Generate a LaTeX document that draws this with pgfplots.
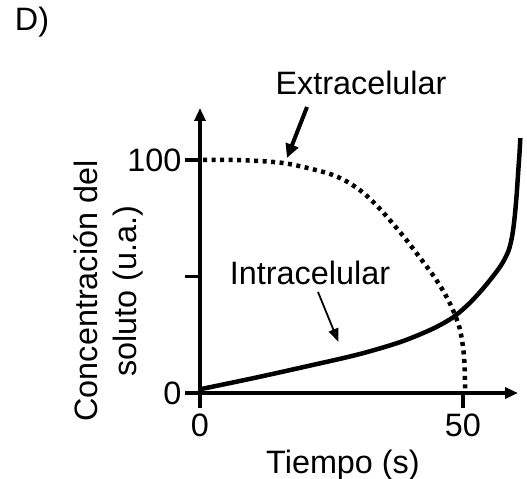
\documentclass[border=0pt]{standalone}
\usepackage{pgfplots}
\pgfplotsset{compat=1.18}
\usepackage{fontspec}
\setmainfont{Liberation Sans}
\usetikzlibrary{arrows.meta}
\newcommand{\bigf}{\fontsize{32.5}{38}\selectfont}
\begin{document}
\begin{tikzpicture}
\begin{axis}[
  scale only axis,
  width=318bp, height=285bp,
  xmin=0, xmax=60.46, ymin=0, ymax=122.3,
  axis lines=left,
  axis line style={line width=3.5bp, -{Triangle[length=13bp,width=11bp]}},
  clip=false,
  xtick={0,50}, ytick={0,50,100}, yticklabels={0,,100},
  tick align=outside,
  major tick length=15bp,
  tick style={line width=3.5bp, black},
  tick label style={font=\bigf},
  /pgf/number format/assume math mode=true,
  xticklabel style={yshift=-2bp},
  yticklabel style={xshift=0bp},
]
\addplot[black, line width=4.5bp, smooth, tension=0.5] coordinates {
(0,1.6) (10,6.3) (20,11.3) (30,16.5) (38,21.8) (44,27.3) (48,32.3) (51,38) (53.5,44) (55.5,49.5) (57,54) (58,57.8) (58.8,62) (59.4,68) (59.85,76) (60.2,85) (60.5,95) (60.75,103) (60.9,109.4)
};
\addplot[black, line width=4.5bp, smooth, tension=0.5, dash pattern=on 4bp off 4.5bp] coordinates {
(0.6,100) (8,99.9) (16.1,98.6) (24,94.5) (27.8,90.9) (31,86) (34,79.5) (36.7,72.6) (39.2,65.8) (41.7,58.4) (44.3,50.6) (46.4,43.2) (48.1,35.6) (49.4,27.5) (50.1,18) (50.35,9) (50.4,0)
};
\end{axis}
\node[font=\bigf] at (-168bp,371bp) {D)};
\node[font=\bigf, anchor=base] at (161bp,298bp) {Extracelular};
\draw[line width=4bp, -{Triangle[length=14bp,width=13bp]}] (107bp,286bp) -- (87bp,235bp);
\node[font=\bigf, anchor=base] at (110bp,108bp) {Intracelular};
\draw[line width=1.8bp, -{Triangle[length=13bp,width=10bp]}] (118bp,101bp) -- (138.3bp,51.3bp);
\node[font=\bigf, anchor=base] at (143bp,-80bp) {Tiempo (s)};
\node[font=\bigf, rotate=90] at (-114bp,102bp) {Concentración del};
\node[font=\bigf, rotate=90] at (-72bp,102bp) {soluto (u.a.)};
\pgfresetboundingbox
\path[use as bounding box] (-200bp,-86bp) rectangle (327bp,393bp);
\end{tikzpicture}
\end{document}
